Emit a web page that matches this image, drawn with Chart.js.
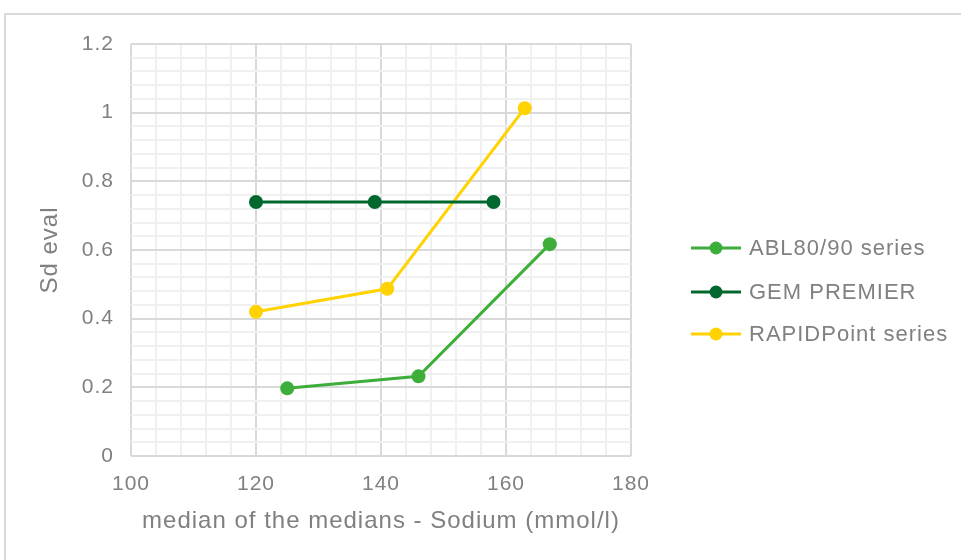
<!DOCTYPE html>
<html>
<head>
<meta charset="utf-8">
<script src="https://cdn.jsdelivr.net/npm/chart.js@4/dist/chart.umd.min.js"></script>
<style>
  html, body { margin: 0; padding: 0; background: #fff; }
  #frame { position: absolute; left: 4px; top: 13px; width: 1000px; height: 600px; border-left: 2px solid #d9d9d9; border-top: 2px solid #d9d9d9; box-sizing: border-box; }
  #wrap { position: absolute; left: 0; top: 0; width: 961px; height: 560px; }
</style>
</head>
<body>
<div id="frame"></div>
<div id="wrap"><canvas id="c" width="961" height="560"></canvas></div>
<script>
const seriesNames = ["ABL80/90 series", "GEM PREMIER", "RAPIDPoint series"];
const ablX = [125, 146, 167];
const ablY = [0.197, 0.232, 0.617];
const gemX = [120, 139, 158];
const gemY = [0.74, 0.74, 0.74];
const rapidX = [120, 141, 163];
const rapidY = [0.42, 0.487, 1.013];
const xTitle = "median of the medians - Sodium (mmol/l)";
const yTitle = "Sd eval";

const colors = ["#3dae3a", "#00682f", "#ffd200"];
const textColor = "#808080";
const font = "'Liberation Sans', Arial, sans-serif";

function pts(xs, ys) { return xs.map((x, i) => ({ x: x, y: ys[i] })); }

const datasets = [pts(ablX, ablY), pts(gemX, gemY), pts(rapidX, rapidY)].map((d, i) => ({
  label: seriesNames[i],
  data: d,
  borderColor: colors[i],
  backgroundColor: colors[i],
  borderWidth: 3,
  pointRadius: 7,
  pointHoverRadius: 7,
  pointBorderWidth: 0,
  showLine: true,
  tension: 0
}));

const spacingPlugin = {
  id: 'spacing',
  beforeLayout(chart) { chart.ctx.letterSpacing = '1px'; },
  beforeDraw(chart) { chart.ctx.letterSpacing = '1px'; }
};

const legendPlugin = {
  id: 'customLegend',
  afterDraw(chart) {
    const ctx = chart.ctx;
    const x0 = 691, x1 = 741, tx = 749;
    const ys = [248, 292, 334];
    ctx.save();
    ctx.letterSpacing = '1px';
    ctx.font = "22px " + font;
    ctx.textBaseline = 'middle';
    ctx.textAlign = 'left';
    chart.data.datasets.forEach((ds, i) => {
      const y = ys[i];
      ctx.strokeStyle = ds.borderColor;
      ctx.lineWidth = 3;
      ctx.beginPath(); ctx.moveTo(x0, y); ctx.lineTo(x1, y); ctx.stroke();
      ctx.fillStyle = ds.borderColor;
      ctx.beginPath(); ctx.arc((x0 + x1) / 2, y, 6.5, 0, Math.PI * 2); ctx.fill();
      ctx.fillStyle = textColor;
      ctx.fillText(ds.label, tx, y + 1);
    });
    ctx.restore();
  }
};

new Chart(document.getElementById('c'), {
  type: 'scatter',
  data: { datasets: datasets },
  plugins: [spacingPlugin, legendPlugin],
  options: {
    responsive: false,
    animation: false,
    layout: { padding: { left: 36, top: 44, right: 330, bottom: 0 } },
    plugins: { legend: { display: false }, tooltip: { enabled: false } },
    scales: {
      x: {
        type: 'linear', min: 100, max: 180,
        afterFit(s) { s.height = 104; },
        ticks: {
          stepSize: 4, autoSkip: false, maxRotation: 0, color: textColor,
          font: { family: font, size: 21 }, padding: 16,
          callback: v => (Math.round(v) % 20 === 0 ? String(Math.round(v)) : '')
        },
        grid: {
          color: c => (Math.round(c.tick.value) % 20 === 0 ? '#d9d9d9' : '#f0f0f0'),
          lineWidth: 2, drawTicks: false
        },
        border: { display: false },
        title: { display: true, text: xTitle, color: textColor, font: { family: font, size: 24 }, padding: { top: 0, bottom: 24 } }
      },
      y: {
        type: 'linear', min: 0, max: 1.2,
        afterFit(s) { s.width = 95; },
        ticks: {
          stepSize: 0.04, autoSkip: false, color: textColor,
          font: { family: font, size: 21 }, padding: 17,
          callback: v => (Math.round(v * 100) % 20 === 0 ? String(Math.round(v * 10) / 10) : '')
        },
        grid: {
          color: c => (Math.round(c.tick.value * 100) % 20 === 0 ? '#d9d9d9' : '#f0f0f0'),
          lineWidth: 2, drawTicks: false
        },
        border: { display: false },
        title: { display: true, text: yTitle, color: textColor, font: { family: font, size: 24 }, padding: { top: 0, bottom: 0 } }
      }
    }
  }
});
</script>
</body>
</html>
